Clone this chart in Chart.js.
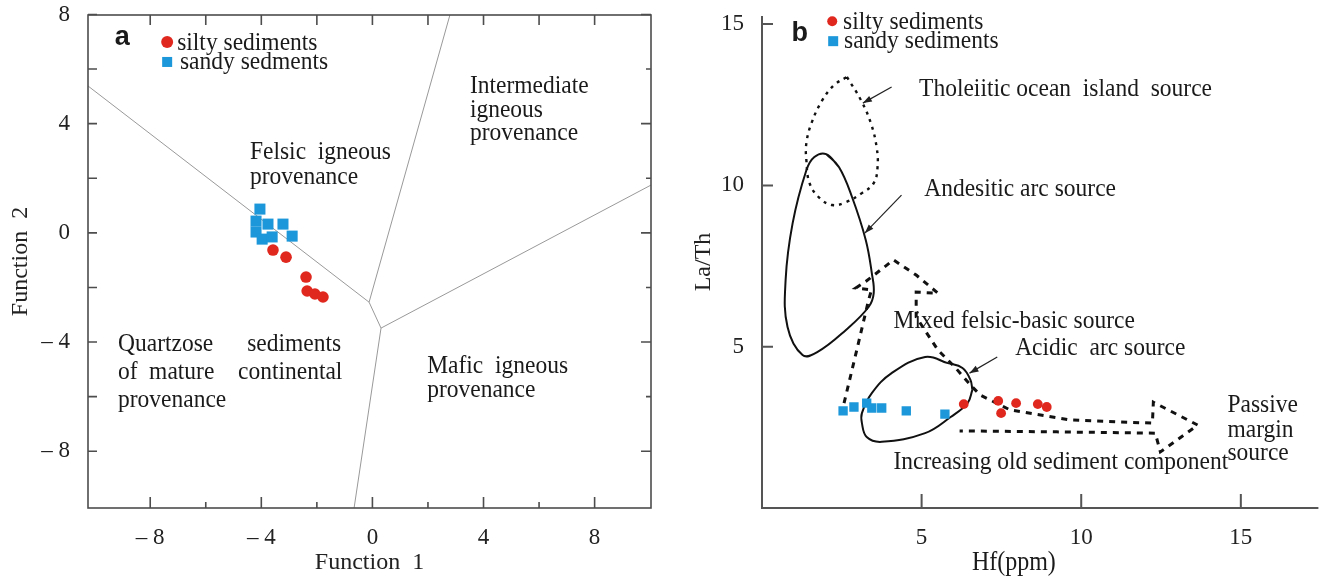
<!DOCTYPE html>
<html><head><meta charset="utf-8">
<script src="https://cdn.jsdelivr.net/npm/chart.js@4.4.1/dist/chart.umd.min.js"></script>
<style>
html,body{margin:0;padding:0;background:#fff;width:1325px;height:577px;overflow:hidden}
#wa{position:absolute;left:0;top:0;width:670px;height:577px}
#wb{position:absolute;left:670px;top:0;width:655px;height:577px}
</style></head><body>
<div id="wa"><canvas id="ca"></canvas></div>
<div id="wb"><canvas id="cb"></canvas></div>
<script>
// ---------- Panel a data (discriminant functions) ----------
const siltyA_F1 = [-3.58, -3.11, -2.39, -2.35, -2.07, -1.78];
const siltyA_F2 = [-0.63, -0.89, -1.62, -2.13, -2.24, -2.35];
const sandyA_F1 = [-4.05, -4.19, -3.76, -3.22, -4.19, -3.97, -3.61, -2.89];
const sandyA_F2 = [0.87, 0.43, 0.32, 0.32, 0.03, -0.23, -0.15, -0.12];
const aTickLabels = [-8, -4, 0, 4, 8];
const aTickMarks = [-8, -6, -4, -2, 0, 2, 4, 6, 8];
// field boundaries
const bndLeftX = [-10.24, -0.12], bndLeftY = [5.38, -2.54];
const bndTopX = [2.79, -0.12], bndTopY = [7.98, -2.54];
const bndMidX = [-0.12, 0.31], bndMidY = [-2.54, -3.49];
const bndRightX = [10.03, 0.31], bndRightY = [1.75, -3.49];
const bndBottomX = [0.31, -0.66], bndBottomY = [-3.49, -10.08];

// ---------- Panel b data ----------
const siltyB_Hf = [6.32, 7.40, 7.49, 7.96, 8.64, 8.92];
const siltyB_LaTh = [3.22, 3.32, 2.94, 3.25, 3.22, 3.13];
const sandyB_Hf = [2.54, 2.88, 3.28, 3.44, 3.75, 4.52, 5.73];
const sandyB_LaTh = [3.01, 3.13, 3.25, 3.10, 3.10, 3.01, 2.91];
const bTickLabels = [5, 10, 15];
// source fields
const tholX = [2.66, 3.10, 3.41, 3.59, 3.62, 3.50, 3.13, 2.63, 2.20, 1.80, 1.49, 1.39, 1.39, 1.55, 1.89, 2.26, 2.66];
const tholY = [13.36, 12.64, 11.93, 11.19, 10.57, 10.07, 9.76, 9.48, 9.39, 9.61, 10.07, 10.78, 11.31, 11.93, 12.64, 13.11, 13.36];
const andX = [2.01, 2.41, 2.82, 3.25, 3.44, 3.50, 3.34, 2.63, 1.73, 1.27, 0.80, 0.74, 0.96, 1.39, 1.64, 2.01, 2.41];
const andY = [10.97, 10.57, 9.64, 8.31, 7.28, 6.66, 6.23, 5.52, 4.83, 4.74, 5.61, 7.07, 8.83, 10.47, 10.88, 10.97, 10.57];
const acidX = [6.59, 6.44, 5.91, 5.11, 3.75, 3.28, 3.13, 3.13, 3.44, 4.06, 5.11, 5.82, 6.28, 6.53, 6.59];
const acidY = [3.66, 3.25, 2.82, 2.32, 2.05, 2.20, 2.63, 2.94, 3.56, 4.18, 4.68, 4.49, 4.34, 3.97, 3.66];
const mixX = [2.57, 2.97, 3.34, 3.43, 2.94, 3.25, 4.12, 4.83, 5.51, 4.83, 4.83, 5.51, 6.04, 6.59, 6.84, 7.77, 9.63, 12.23, 12.26, 13.65, 12.48, 12.32, 9.23, 6.19];
const mixY = [3.25, 4.90, 6.45, 6.76, 6.82, 7.02, 7.69, 7.22, 6.66, 6.69, 5.92, 4.90, 4.37, 3.75, 3.50, 3.04, 2.73, 2.63, 3.28, 2.57, 1.74, 2.32, 2.36, 2.39];

const RED = '#e0281f', BLUE = '#1c97d9';
const SERIF = '"Liberation Serif", "Times New Roman", serif';
const SANS = '"Liberation Sans", Arial, sans-serif';
Chart.defaults.font.family = SERIF;
Chart.defaults.color = '#222';

const pts = (xs, ys) => xs.map((x, i) => ({x, y: ys[i]}));
const fmt = v => v < 0 ? '\u2013 ' + Math.abs(v) : String(v);

function text(ctx, s, x, y, size, align, weight, family, stretch) {
  const k = stretch || 1.1;
  ctx.save();
  ctx.translate(x, y);
  ctx.scale(1, k);
  ctx.font = (weight || '') + ' ' + size + 'px ' + (family || SERIF);
  ctx.textAlign = align || 'left';
  ctx.textBaseline = 'middle';
  ctx.fillStyle = '#1a1a1a';
  ctx.fillText(s, 0, 0);
  ctx.restore();
}
function arrow(ctx, x1, y1, x2, y2) {
  ctx.beginPath(); ctx.moveTo(x1, y1); ctx.lineTo(x2, y2);
  ctx.strokeStyle = '#222'; ctx.lineWidth = 1.2; ctx.stroke();
  const a = Math.atan2(y2 - y1, x2 - x1), L = 9, W = 3.2;
  ctx.beginPath();
  ctx.moveTo(x2, y2);
  ctx.lineTo(x2 - L * Math.cos(a) + W * Math.sin(a), y2 - L * Math.sin(a) - W * Math.cos(a));
  ctx.lineTo(x2 - L * Math.cos(a) - W * Math.sin(a), y2 - L * Math.sin(a) + W * Math.cos(a));
  ctx.closePath(); ctx.fillStyle = '#222'; ctx.fill();
}

// ---------- annotations ----------
const aTexts = [
  ['Felsic  igneous', -4.41, 2.96], ['provenance', -4.41, 2.04],
  ['Intermediate', 3.51, 5.38], ['igneous', 3.51, 4.50], ['provenance', 3.51, 3.66],
  ['Quartzose', -9.16, -4.07], ['sediments', -4.51, -4.07],
  ['of', -9.16, -5.10], ['mature', -8.04, -5.10], ['continental', -4.84, -5.10],
  ['provenance', -9.16, -6.12],
  ['Mafic  igneous', 1.97, -4.88], ['provenance', 1.97, -5.76]
];
const bTexts = [
  ['Tholeiitic ocean  island  source', 4.92, 12.98],
  ['Andesitic arc source', 5.08, 9.89],
  ['Mixed felsic-basic source', 4.12, 5.79],
  ['Acidic  arc source', 7.93, 4.96],
  ['Passive', 14.58, 3.19], ['margin', 14.58, 2.42], ['source', 14.58, 1.70],
  ['Increasing old sediment component', 4.12, 1.43]
];
const bArrows = [[4.06, 13.05, 3.16, 12.55], [4.37, 9.70, 3.22, 8.52], [7.37, 4.68, 6.50, 4.18]];

const noPad = s => { s.paddingTop = 0; s.paddingBottom = 0; s.paddingLeft = 0; s.paddingRight = 0; };

const decorA = {
  id: 'decorA',
  afterDatasetsDraw(chart) {
    const {ctx, chartArea: c, scales: {x, y}} = chart;
    ctx.save();
    ctx.strokeStyle = '#4d4d4d'; ctx.lineWidth = 1.6;
    ctx.strokeRect(c.left, c.top, c.right - c.left, c.bottom - c.top);
    ctx.beginPath();
    for (const v of aTickMarks) {
      const major = v % 4 === 0;
      const px = x.getPixelForValue(v), py = y.getPixelForValue(v);
      ctx.moveTo(px, c.bottom); ctx.lineTo(px, c.bottom - (major ? 11 : 6));
      ctx.moveTo(px, c.top); ctx.lineTo(px, c.top + 10);
      ctx.moveTo(c.left, py); ctx.lineTo(c.left + 9, py);
      ctx.moveTo(c.right, py); ctx.lineTo(c.right - (major ? 10 : 5), py);
    }
    ctx.stroke();
    for (const [s, tx, ty] of aTexts) text(ctx, s, x.getPixelForValue(tx), y.getPixelForValue(ty), 23.5);
    text(ctx, 'a', x.getPixelForValue(-9.01), y.getPixelForValue(7.17), 27, 'center', 'bold', SANS, 1);
    // legend
    ctx.fillStyle = RED; ctx.beginPath();
    ctx.arc(x.getPixelForValue(-7.39), y.getPixelForValue(6.99), 6, 0, Math.PI * 2); ctx.fill();
    ctx.fillStyle = BLUE;
    ctx.fillRect(x.getPixelForValue(-7.39) - 5, y.getPixelForValue(6.26) - 5, 10, 10);
    text(ctx, 'silty sediments', x.getPixelForValue(-7.03), y.getPixelForValue(6.95), 23.5);
    text(ctx, 'sandy sedments', x.getPixelForValue(-6.93), y.getPixelForValue(6.26), 23.5);
    ctx.restore();
  }
};

const decorB = {
  id: 'decorB',
  afterDatasetsDraw(chart) {
    const {ctx, chartArea: c, scales: {x, y}} = chart;
    ctx.save();
    ctx.strokeStyle = '#555'; ctx.lineWidth = 2;
    ctx.beginPath();
    ctx.moveTo(c.left, c.top); ctx.lineTo(c.left, c.bottom); ctx.lineTo(c.right, c.bottom);
    for (const v of bTickLabels) {
      const px = x.getPixelForValue(v), py = y.getPixelForValue(v);
      ctx.moveTo(px, c.bottom); ctx.lineTo(px, c.bottom - 14);
      ctx.moveTo(c.left, py); ctx.lineTo(c.left + 11, py);
    }
    ctx.stroke();
    for (const [x1, y1, x2, y2] of bArrows)
      arrow(ctx, x.getPixelForValue(x1), y.getPixelForValue(y1), x.getPixelForValue(x2), y.getPixelForValue(y2));
    for (const [s, tx, ty] of bTexts) text(ctx, s, x.getPixelForValue(tx), y.getPixelForValue(ty), 23.5);
    text(ctx, 'b', x.getPixelForValue(1.18), y.getPixelForValue(14.72), 27, 'center', 'bold', SANS, 1);
    text(ctx, 'Hf(ppm)', x.getPixelForValue(7.89), c.bottom + 55, 24, 'center');
    ctx.fillStyle = RED; ctx.beginPath();
    ctx.arc(x.getPixelForValue(2.20), y.getPixelForValue(15.09), 5, 0, Math.PI * 2); ctx.fill();
    ctx.fillStyle = BLUE;
    ctx.fillRect(x.getPixelForValue(2.23) - 5, y.getPixelForValue(14.47) - 5, 10, 10);
    text(ctx, 'silty sediments', x.getPixelForValue(2.54), y.getPixelForValue(15.06), 23.5);
    text(ctx, 'sandy sediments', x.getPixelForValue(2.57), y.getPixelForValue(14.47), 23.5);
    ctx.restore();
  }
};

const lineDs = (xs, ys, o) => Object.assign({
  data: pts(xs, ys), showLine: true, pointRadius: 0, borderColor: '#999', borderWidth: 1, fill: false, tension: 0
}, o || {});

const tickFont = {family: SERIF, size: 23};

new Chart(document.getElementById('ca'), {
  type: 'scatter',
  data: {
    datasets: [
      {label: 'silty sediments', data: pts(siltyA_F1, siltyA_F2), pointStyle: 'circle', pointRadius: 5.8, backgroundColor: RED, borderWidth: 0},
      {label: 'sandy sedments', data: pts(sandyA_F1, sandyA_F2), pointStyle: 'rect', pointRadius: 7.8, backgroundColor: BLUE, borderWidth: 0},
      lineDs(bndLeftX, bndLeftY), lineDs(bndTopX, bndTopY), lineDs(bndMidX, bndMidY),
      lineDs(bndRightX, bndRightY), lineDs(bndBottomX, bndBottomY)
    ]
  },
  options: {
    responsive: true, maintainAspectRatio: false, animation: false,
    layout: {padding: {top: 15, right: 19, bottom: 0, left: 0}},
    plugins: {legend: {display: false}, tooltip: {enabled: false}},
    scales: {
      x: {
        type: 'linear', min: -10.24, max: 10.03,
        grid: {display: false}, border: {display: false},
        afterBuildTicks: s => { s.ticks = aTickLabels.map(v => ({value: v})); },
        afterFit: s => { s.height = 69; noPad(s); },
        ticks: {font: tickFont, padding: 8, callback: fmt, color: '#222'},
        title: {display: true, text: 'Function  1', font: {family: SERIF, size: 24}, padding: {top: 0, bottom: 0}, color: '#222'}
      },
      y: {
        type: 'linear', min: -10.08, max: 7.98,
        grid: {display: false}, border: {display: false},
        afterBuildTicks: s => { s.ticks = aTickLabels.map(v => ({value: v})); },
        afterFit: s => { s.width = 88; noPad(s); },
        ticks: {font: tickFont, padding: 10, callback: fmt, color: '#222'},
        title: {display: true, text: 'Function  2', font: {family: SERIF, size: 24}, padding: {top: 6, bottom: 0}, color: '#222'}
      }
    }
  },
  plugins: [decorA]
});

new Chart(document.getElementById('cb'), {
  type: 'scatter',
  data: {
    datasets: [
      {label: 'silty sediments', data: pts(siltyB_Hf, siltyB_LaTh), pointStyle: 'circle', pointRadius: 4.9, backgroundColor: RED, borderWidth: 0},
      {label: 'sandy sediments', data: pts(sandyB_Hf, sandyB_LaTh), pointStyle: 'rect', pointRadius: 6.6, backgroundColor: BLUE, borderWidth: 0},
      lineDs(tholX, tholY, {borderColor: '#111', borderWidth: 2.4, borderDash: [3, 5], tension: 0.4}),
      lineDs(andX, andY, {borderColor: '#111', borderWidth: 2, tension: 0.4}),
      lineDs(acidX, acidY, {borderColor: '#111', borderWidth: 2, tension: 0.4}),
      lineDs(mixX, mixY, {borderColor: '#111', borderWidth: 3, borderDash: [6, 6], tension: 0})
    ]
  },
  options: {
    responsive: true, maintainAspectRatio: false, animation: false,
    layout: {padding: {top: 16, right: 0, bottom: 0, left: 0}},
    plugins: {legend: {display: false}, tooltip: {enabled: false}},
    scales: {
      x: {
        type: 'linear', min: 0, max: 17.43,
        grid: {display: false}, border: {display: false},
        afterBuildTicks: s => { s.ticks = bTickLabels.map(v => ({value: v})); },
        afterFit: s => { s.height = 69; noPad(s); },
        ticks: {font: tickFont, padding: 8, color: '#222'}
      },
      y: {
        type: 'linear', min: 0, max: 15.25,
        grid: {display: false}, border: {display: false},
        afterBuildTicks: s => { s.ticks = bTickLabels.map(v => ({value: v})); },
        afterFit: s => { s.width = 92; noPad(s); },
        ticks: {font: tickFont, padding: 10, color: '#222'},
        title: {display: true, text: 'La/Th', font: {family: SERIF, size: 24}, padding: {top: 19, bottom: 0}, color: '#222'}
      }
    }
  },
  plugins: [decorB]
});
</script>
</body></html>
